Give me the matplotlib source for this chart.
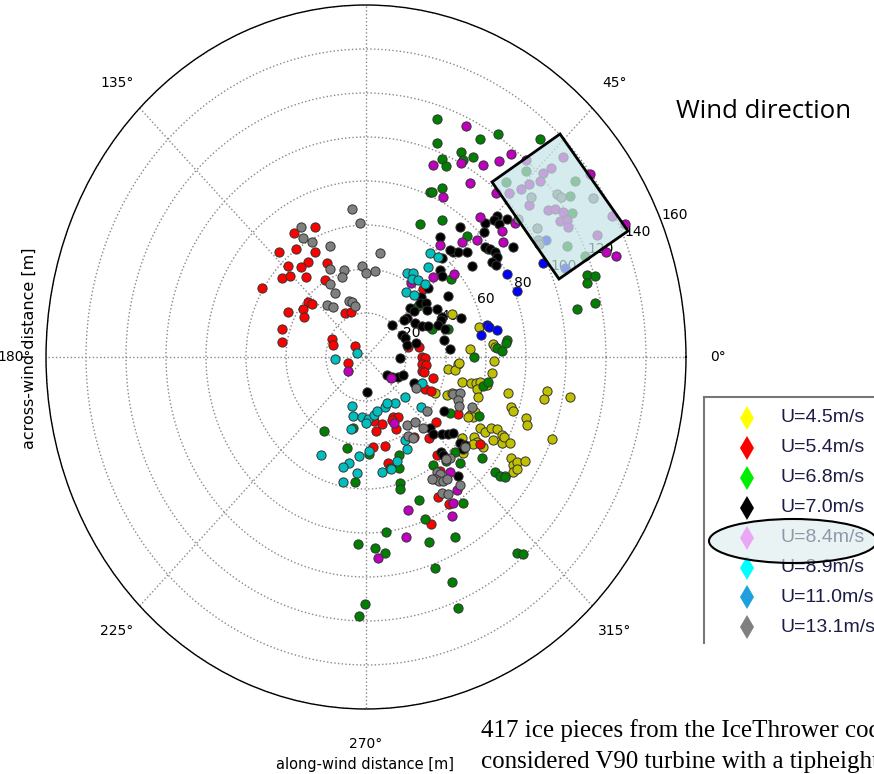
import numpy as np
import matplotlib
matplotlib.use("Agg")
import matplotlib.pyplot as plt
from matplotlib.patches import Polygon, Ellipse

# Datos: posiciones de impacto (x hacia 0°, y hacia 90°) en metros
u45 = [(42.9, 19.5), (56.7, 13.5), (63.4, 5.9), (64.5, 4.7), (52, 3.6), (64.2, -1.8), (46.2, -3.2),
       (41.2, -5.5), (44.5, -5.9), (46.5, -2.9), (62.9, -7.4), (47.9, -11.2), (52.5, -12), (55, -12),
       (57, -11.5), (60.4, -12.7), (55.4, -14.5), (55.9, -18), (40.7, -17.3), (34.5, -16.5), (42.9, -16.5),
       (44.9, -17), (71.2, -16.2), (90.4, -15.3), (89, -19.2), (102, -18), (72.4, -22.6), (73.4, -24.5),
       (52, -26.4), (54.5, -24.9), (53.7, -27.1), (51.2, -27.1), (79.9, -27.9), (80.4, -30.9), (57, -32.4),
       (59.5, -34), (62.5, -32.4), (65.4, -32.7), (63.7, -37.7), (67.9, -35.5), (67.9, -39.2), (69.2, -36.2),
       (72, -39.2), (54.2, -36.2), (55.4, -38.5), (53.7, -39.7), (47.9, -36.7), (48.7, -41.5), (93.2, -37.3),
       (58.4, -40.8), (48.7, -43.8), (72.5, -46), (73.7, -49.1), (73.4, -52.1), (75.7, -47.6), (79.5, -47.3),
       (75.4, -50.9), (69.5, -54.1)]
u54 = [(-25.7, 59.2), (-36.2, 56.2), (-34.9, 49), (-25.7, 47.9), (-43.5, 47.6), (-28.9, 43.2), (-19.4, 42.7),
       (-39.2, 41.4), (-32.7, 40.9), (-42, 35.8), (-37.9, 36.7), (-30, 36.5), (-20.4, 35), (-51.9, 31.2),
       (-28.9, 24.9), (-27, 24), (-31.4, 21.8), (-31, 18), (-38.9, 20.5), (-10.5, 19.9), (-7.7, 20.5),
       (-41.9, 12.7), (-42.2, 7), (-17.2, 8.2), (-16.4, 5.5), (-5.4, 5), (-8.9, -2.9), (26.7, 4.4),
       (28.4, 30.8), (20.9, 4.4), (27.9, 0.1), (29.5, -0.6), (28.2, -3.3), (29.9, -3.6), (27.9, -6.4),
       (29.2, -7), (33.7, -9.4), (29.5, -14.7), (32.5, -15.5), (45.9, -26), (13.7, -27.1), (16.2, -27.1),
       (13.2, -28.6), (14.9, -32.7), (24.2, -36.2), (35, -29.4), (31.5, -37), (57, -39.7), (35.4, -44.5),
       (11.2, -48.3), (4, -29), (7.9, -30.5), (5, -33.5), (3.7, -40.8), (9.5, -40.3), (37, -51.7),
       (36.2, -63.5), (41.7, -66.8), (32.5, -75.9)]
u68 = [(35.4, 108.2), (35.4, 97.4), (38, 90.1), (40.2, 86.7), (32, 75.1), (32.9, 75.1), (38, 76.8),
       (27.2, 60.5), (38, 62.3), (57, 99.1), (65.9, 101.4), (87, 99.1), (47.4, 93.3), (48.4, 89.5),
       (53.7, 91), (79.9, 84.7), (69.9, 79.7), (104.5, 80), (102, 73.2), (102.9, 65.3), (100.4, 50.6),
       (109.7, 46), (99.5, 63), (50.4, 55), (61.2, 49), (105.7, 21.8), (114.5, 24.4), (110.4, 37.3),
       (114.5, 36.8), (110.4, 33.8), (70.4, 7.7), (69.9, 6.5), (65.4, 4), (67.9, 2.7), (54.2, -0.1),
       (58.7, -13.2), (60.9, -11.2), (56.7, -26.7), (42, -25.6), (42.4, 35.3), (25.9, 23.2), (32.9, 12.6),
       (41.2, 12.6), (44.5, -43), (39.9, -47.3), (57.9, -45.8), (64.5, -52.4), (67, -54), (69.5, -54.4),
       (33.7, -49.1), (16.5, -44.5), (16.5, -50.6), (17, -57.4), (47, -48), (48.4, -66.5), (44.5, -82),
       (75.4, -89), (78.4, -89.5), (42.9, -102.1), (46.2, -114.2), (-9.7, -41.5), (1.5, -44.1), (12, -50.6),
       (17, -60.1), (-5.4, -56.7), (26.5, -65), (29.4, -73.8), (9.9, -79.4), (31.5, -84), (-4.2, -85),
       (4.7, -86.7), (9.4, -89.2), (34.7, -96), (-0.5, -112.3), (-3.7, -117.9), (-21, -33.5), (-6.4, -32.4)]
u70 = [(65.7, 64.2), (64, 62.3), (59.5, 61), (59.2, 57), (66.7, 60.5), (70.4, 62.6), (47, 59), (37, 54.7),
       (73.7, 50.1), (59.5, 49.9), (62, 49), (64.5, 47.9), (65.4, 45.6), (62.9, 43), (65, 41.8), (53.2, 41.5),
       (43.7, 47.9), (46.2, 47.9), (50.4, 47.6), (37.9, 44.9), (42, 48.6), (37, 39.5), (27.5, 27.4),
       (27, 24.7), (29.9, 24.7), (41.2, 27.7), (22, 22.1), (24.2, 20.9), (30.4, 21.4), (35.4, 21.7),
       (37.9, 18.3), (37.5, 16.8), (47.5, 17.6), (20.4, 17.6), (13.2, 14.5), (24.5, 15.6), (27.9, 14.1),
       (31.2, 14.1), (36.2, 14.5), (39.5, 12.6), (17.9, 10), (19.5, 8.5), (39.2, 7.7), (20.4, 5.5),
       (42, 3.5), (17, -0.6), (19, 16.8), (24.9, 6.5), (0.7, -16), (31.2, 31.2), (37.9, 36.8), (10.4, -8.2),
       (12.9, -9), (15.9, -9), (18.7, -8.2), (24.2, -12), (39.2, -24.5), (32, -32.4), (33.7, -35.1),
       (37.9, -35.1), (41.2, -35.1), (43.7, -34.7), (47, -39.2), (37.5, -43), (38.7, -44.5), (46.2, -54),
       (49.5, -40), (48.7, -42)]
u84 = [(33.7, 87.1), (38.5, 72.6), (36.9, 51), (33.7, 36.5), (49.9, 105.1), (47.4, 88), (58.4, 87.3),
       (66.7, 89), (72.4, 92.3), (52, 79), (65, 74.7), (80, 89.5), (88.4, 83.8), (92.4, 85.8), (87, 80),
       (81.5, 78.6), (77.5, 76.5), (71.5, 74.4), (98.7, 91), (81.4, 69.1), (91.2, 66.8), (94.5, 67.1),
       (98.4, 65.8), (97, 62), (100.4, 62.3), (101.2, 59.2), (115.4, 55.5), (123, 64.1), (112, 83.2),
       (120, 47.6), (125, 46), (129.5, 60.5), (57, 63.5), (55.4, 53.2), (48.2, 52.4), (68.2, 57.3),
       (68.7, 52.4), (74.5, 61), (44, 37.7), (22.4, 33.5), (-9, -6.4), (12.4, -9.7), (14, -30.1),
       (42, -52.4), (45.7, -60.5), (43.4, -66.5), (42.9, -72.1), (21.2, -69.5), (20.2, -82), (5.9, -91.2)]
u89 = [(20.4, 38), (23.7, 38.3), (22.9, 35.3), (25.9, 35), (29.5, 33.2), (19.9, 29.7), (24.2, 28.2),
       (31.2, 40.8), (32, 47.1), (35.9, 45.6), (-4.5, 1.7), (-15.4, -1), (27.9, -12), (19.4, -18),
       (14.7, -21), (9.7, -22.6), (10.7, -20.8), (-7, -22.3), (-6.7, -26.8), (-2.2, -27.4), (1.2, -28.3),
       (4, -26.4), (5.4, -24.4), (0, -30.1), (-7.7, -32.9), (27.4, -22.9), (20.4, -41.8), (15.4, -47.3),
       (12.5, -50.9), (-22.7, -44.5), (1.7, -42.6), (-3.5, -45), (-8.4, -48), (-11.7, -50.1), (-4.7, -52.9),
       (-11.4, -56.7), (19.5, -37.7), (8.2, -52.1)]
u110 = [(70.7, 37.7), (75.4, 30.1), (60.4, 14.5), (61.7, 13.5), (65.4, 12.3), (57.5, 10), (90, 53.2),
        (99.5, 40.3), (88.4, 42.6)]
u131 = [(-7.2, 67.4), (-3.2, 60.9), (-32.4, 59.2), (-31.4, 54.1), (-27.2, 52.3), (-18, 50.3), (6.9, 47.1),
        (-18, 40), (-2, 41.4), (-11, 39.5), (-0.2, 38.2), (4.7, 39), (-12.2, 36.5), (-18, 33.2),
        (-15.5, 29.2), (-19.4, 23.8), (-16.4, 22.9), (-8.7, 25.6), (-7.2, 24.9), (-5.5, 23.3), (24.9, -14.2),
        (43.4, -16.8), (47, -16.2), (46.2, -19.5), (46.5, -22.3), (52.9, -22.9), (30.4, -24.5),
        (20.4, -30.9), (24.5, -29.4), (28.7, -32.1), (21.2, -35.8), (23.7, -36.8), (49.5, -40.8), (42, -46),
        (39.9, -46.4), (35.4, -52.4), (37, -53.3), (34.5, -55.5), (36.5, -56.4), (32.9, -55.5),
        (38.7, -56.4), (40.4, -55.5), (47, -58.2), (37.9, -61.7), (41.2, -62.3), (82.4, 72.6), (95.4, 74),
        (97.4, 72.6), (113.7, 72.1), (85.4, 58.8), (86.2, 53.2), (86.5, 51.4), (76.2, 62.7)]

series = [u45, u54, u68, u70, u84, u89, u110, u131]
etiquetas = ["U=4.5m/s", "U=5.4m/s", "U=6.8m/s", "U=7.0m/s",
             "U=8.4m/s", "U=8.9m/s", "U=11.0m/s", "U=13.1m/s"]
colores = ["#c0c000", "#ff0000", "#008000", "#000000", "#bf00bf", "#00bfbf", "#0000ff", "#808080"]
colores_leyenda = ["#ffff00", "#ff0000", "#00ee00", "#000000", "#ff44ff", "#00ffff", "#1ea0dc", "#808080"]
radios = [20, 40, 60, 80, 100, 120, 140, 160]
angulos = [0, 45, 90, 135, 180, 225, 270, 315]

W, H = 874, 774
fig = plt.figure(figsize=(W / 100, H / 100), dpi=100)

# Gráfico polar (estirado en vertical como en la figura original)
ax = fig.add_axes([46 / W, 65 / H, 640 / W, 704 / H], projection="polar")
ax.set_aspect("auto")
for pts, c in zip(series, colores):
    xy = np.array(pts)
    theta = np.arctan2(xy[:, 1], xy[:, 0])
    r = np.hypot(xy[:, 0], xy[:, 1])
    ax.scatter(theta, r, s=44, c=c, edgecolors="#333333", linewidths=0.7, zorder=3)

ax.set_rlim(0, 160)
ax.set_rticks(radios)
ax.set_yticklabels([str(v) for v in radios], fontsize=10)
ax.set_rlabel_position(22.5)
ax.set_xticks(np.deg2rad(angulos))
ax.set_xticklabels([])
# la etiqueta de 90° queda fuera del recorte original
for a in angulos:
    if a == 90:
        continue
    ax.text(np.deg2rad(a), 176, f"{a}°", ha="center", va="center", fontsize=10, clip_on=False)
ax.grid(True, linestyle=":", color="#888888", linewidth=1)
ax.spines["polar"].set_linewidth(1.0)

# Capa de anotaciones en píxeles
ov = fig.add_axes([0, 0, 1, 1])
ov.set_xlim(0, W)
ov.set_ylim(H, 0)
ov.axis("off")
ov.patch.set_alpha(0)

ov.add_patch(Polygon([(560, 134), (492, 182), (559, 279), (628, 231)], closed=True,
                     facecolor="#c7e4e6", alpha=0.72, edgecolor="none", zorder=2))
ov.add_patch(Polygon([(560, 134), (492, 182), (559, 279), (628, 231)], closed=True,
                     facecolor="none", edgecolor="black", linewidth=2, zorder=3))

ov.text(764, 111, "Wind direction", fontsize=18.5, family="Open Sans", ha="center", va="center")
ov.annotate("", xy=(875, 161), xytext=(665, 161),
            arrowprops=dict(arrowstyle="-|>", lw=2.5, color="black", mutation_scale=28))

# Leyenda (imagen pegada, recortada a la derecha)
ov.plot([704, 880], [397, 397], color="#777777", lw=1.5, clip_on=False)
ov.plot([704, 704], [397, 643], color="#777777", lw=1.5, clip_on=False)
for i, (lab, c) in enumerate(zip(etiquetas, colores_leyenda)):
    y = 418 + i * 29.9
    ov.plot(747, y, marker="d", markersize=12, color=c, markeredgewidth=0, clip_on=False)
    ov.text(781, y, lab, fontsize=14, family="Liberation Sans", color="#1c1c44",
            ha="left", va="center")
ov.add_patch(Ellipse((793, 541), 168, 44, facecolor="#dcecee", alpha=0.6, edgecolor="none", zorder=4))
ov.add_patch(Ellipse((793, 541), 168, 44, facecolor="none", edgecolor="black", lw=1.5, zorder=5))

# Etiquetas de ejes y texto del documento
ov.text(29, 348, "across-wind distance [m]", rotation=90, fontsize=11.5, ha="center", va="center")
ov.text(365, 764, "along-wind distance [m]", fontsize=10.5, ha="center", va="center")
ov.text(481, 737, "417 ice pieces from the IceThrower code", fontsize=18,
        family="Liberation Serif", ha="left", va="baseline")
ov.text(481, 768, "considered V90 turbine with a tipheight", fontsize=18,
        family="Liberation Serif", ha="left", va="baseline")

fig.savefig("out.png", dpi=100)
